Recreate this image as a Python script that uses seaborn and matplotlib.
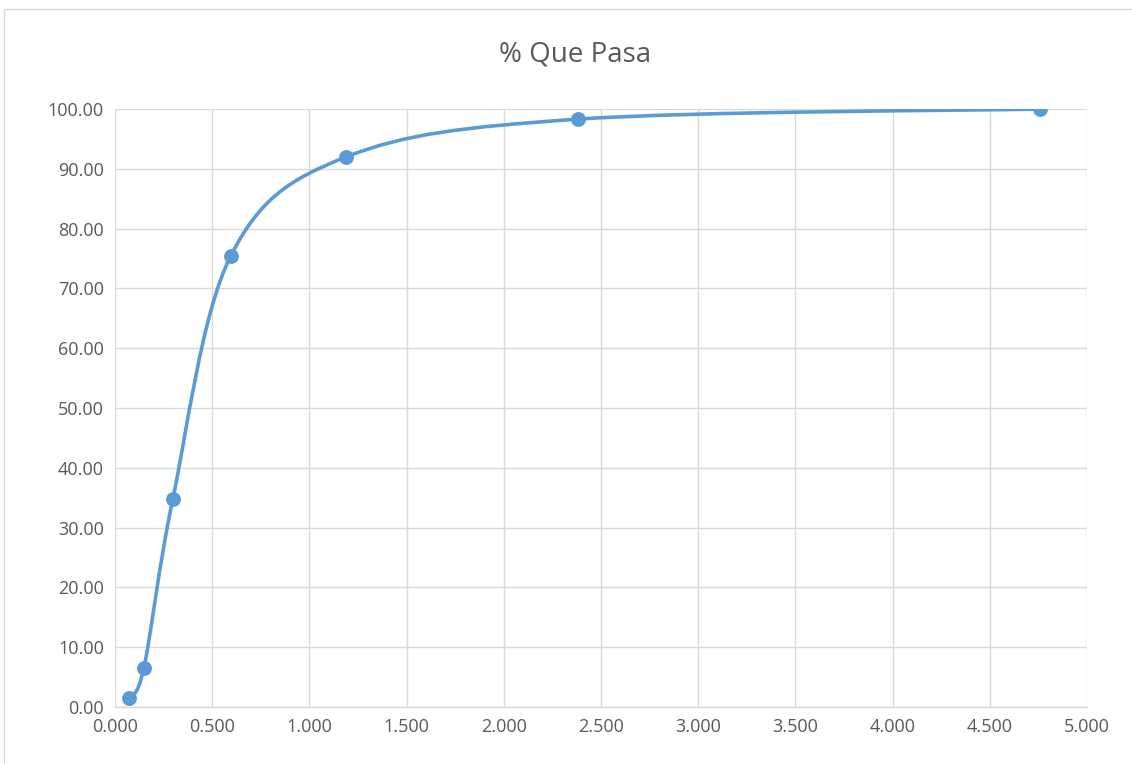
import numpy as np
import matplotlib
matplotlib.use("Agg")
import matplotlib.pyplot as plt
from matplotlib.path import Path
from matplotlib.patches import PathPatch, Rectangle
import seaborn as sns
import pandas as pd

# Sieve opening (mm) and cumulative percent passing
abertura = [0.074, 0.149, 0.297, 0.595, 1.190, 2.380, 4.760]
pasa = [1.50, 6.60, 34.70, 75.40, 92.00, 98.30, 100.00]

x_ticks = [0.0, 0.5, 1.0, 1.5, 2.0, 2.5, 3.0, 3.5, 4.0, 4.5, 5.0]
y_ticks = [0, 10, 20, 30, 40, 50, 60, 70, 80, 90, 100]

BLUE = "#5B9BD5"
GRID = "#D9D9D9"
TXT = "#595959"

sns.set_theme(style="white")
plt.rcParams["font.family"] = ["Open Sans", "DejaVu Sans"]

fig = plt.figure(figsize=(11.32, 7.64), dpi=100)
ax = fig.add_axes([115 / 1132, 1 - 707 / 764, (1087 - 115) / 1132, (707 - 109) / 764])

# chart-area frame
fig.patches.append(Rectangle((4 / 1132, -0.05), 1.1, 1 - 9 / 764 + 0.05,
                             transform=fig.transFigure, fill=False,
                             edgecolor=GRID, linewidth=1.0))

df = pd.DataFrame({"abertura": abertura, "pasa": pasa})

# smoothed line: cubic Bezier segments with Catmull-Rom style control points
pts = np.column_stack([abertura, pasa])
ext = np.vstack([pts[0], pts, pts[-1]])
verts = [tuple(pts[0])]
codes = [Path.MOVETO]
for i in range(len(pts) - 1):
    p0, p1, p2, p3 = ext[i], ext[i + 1], ext[i + 2], ext[i + 3]
    c1 = p1 + (p2 - p0) / 6.0
    c2 = p2 - (p3 - p1) / 6.0
    verts += [tuple(c1), tuple(c2), tuple(p2)]
    codes += [Path.CURVE4] * 3
ax.add_patch(PathPatch(Path(verts, codes), fill=False, edgecolor=BLUE,
                       linewidth=2.6, capstyle="round", zorder=3))

sns.scatterplot(data=df, x="abertura", y="pasa", ax=ax, color=BLUE, s=115,
                edgecolor=BLUE, linewidth=0, zorder=4, legend=False)

ax.set_xlim(0, 5)
ax.set_ylim(0, 100)
ax.set_xticks(x_ticks)
ax.set_yticks(y_ticks)
ax.set_xticklabels([f"{v:.3f}" for v in x_ticks])
ax.set_yticklabels([f"{v:.2f}" for v in y_ticks])
ax.tick_params(axis="both", length=0, labelsize=13, labelcolor=TXT, pad=8)
ax.grid(True, color=GRID, linewidth=1.0)
ax.set_axisbelow(True)
for side in ["top", "right", "left"]:
    ax.spines[side].set_visible(False)
ax.spines["bottom"].set_color(GRID)
ax.spines["bottom"].set_linewidth(1.0)
ax.set_xlabel("")
ax.set_ylabel("")

fig.text(575 / 1132, 1 - 55 / 764, "% Que Pasa", ha="center", va="center",
         fontsize=20, color=TXT)

fig.savefig("out.png", dpi=100)
